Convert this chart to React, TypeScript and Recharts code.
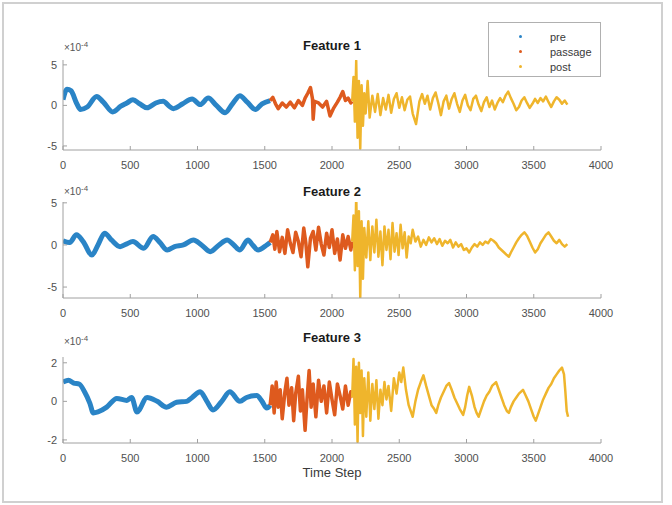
import React from "react";
import { LineChart, Line, XAxis, YAxis } from "recharts";

const xTicks = [0, 500, 1000, 1500, 2000, 2500, 3000, 3500, 4000];
const yTicks12 = [-5, 0, 5];
const yTicks3 = [-2, 0, 2];
const titles = ["Feature 1", "Feature 2", "Feature 3"];
const legendNames = ["pre", "passage", "post"];

// values in units of 1e-4, pairs [time step, value]
const pre1: number[][] = [[0,0.7],[30,2.0],[60,1.8],[100,0.3],[130,-0.5],[180,-0.2],[250,1.1],[300,0.4],[370,-0.8],[430,-0.1],[475,0.3],[520,0.7],[570,0.2],[625,-0.3],[690,0.3],[745,0.5],[790,-0.1],[820,-0.4],[890,0.2],[960,0.8],[1020,0.1],[1080,0.9],[1140,0.0],[1205,-0.9],[1260,0.2],[1315,1.2],[1370,0.4],[1430,-0.5],[1480,0.2],[1540,0.6]];
const passage1: number[][] = [[1540,0.6],[1560,1.0],[1580,0.2],[1600,-0.4],[1630,0.3],[1660,-0.2],[1690,0.4],[1720,-0.3],[1750,0.6],[1780,0.0],[1800,0.9],[1820,1.5],[1840,2.2],[1855,0.8],[1860,-1.7],[1870,0.5],[1900,0.3],[1930,-0.2],[1960,0.5],[1985,-1.3],[2010,-0.4],[2040,0.4],[2060,1.0],[2080,1.7],[2100,0.6],[2120,0.9],[2140,0.3],[2150,0.5]];
const post1: number[][] = [[2150,0.5],[2160,3.5],[2170,-2.0],[2180,5.5],[2190,-4.0],[2200,3.0],[2210,-5.3],[2220,2.5],[2230,-2.5],[2240,1.5],[2250,-1.0],[2265,3.0],[2280,-1.5],[2300,1.2],[2320,-0.8],[2340,1.4],[2360,-1.2],[2380,0.9],[2400,-0.5],[2420,1.3],[2440,-0.9],[2460,0.8],[2480,1.5],[2500,-0.3],[2520,1.0],[2540,-0.6],[2560,0.7],[2580,1.1],[2600,-1.0],[2625,-2.3],[2650,0.5],[2670,1.4],[2690,0.2],[2710,1.2],[2730,-0.5],[2750,0.9],[2770,1.6],[2790,0.3],[2810,-1.2],[2830,0.5],[2850,1.2],[2870,-0.4],[2890,0.8],[2910,1.5],[2930,0.2],[2950,-0.8],[2970,0.6],[2990,1.3],[3010,0.0],[3030,-0.6],[3050,0.8],[3070,1.2],[3090,0.1],[3110,-0.7],[3130,0.4],[3150,1.0],[3170,-0.2],[3190,0.6],[3210,-0.5],[3230,0.3],[3250,0.9],[3270,0.4],[3290,1.2],[3310,1.7],[3330,0.9],[3350,0.2],[3370,-0.6],[3390,-0.2],[3410,0.6],[3430,1.0],[3450,0.3],[3470,-0.3],[3490,0.2],[3510,0.8],[3530,0.3],[3550,0.9],[3570,0.5],[3590,1.1],[3610,0.4],[3630,-0.2],[3650,0.5],[3670,1.0],[3690,0.7],[3710,0.2],[3730,0.6],[3750,0.1]];

const pre2: number[][] = [[0,0.5],[50,0.3],[100,1.2],[150,0.4],[215,-1.2],[260,0.0],[310,1.4],[360,0.6],[425,-0.2],[470,0.1],[520,0.4],[600,-0.4],[670,1.0],[720,0.3],[775,-0.6],[830,-0.2],[895,0.0],[970,0.6],[1030,0.0],[1095,-0.8],[1160,0.0],[1220,0.6],[1270,0.0],[1315,-0.6],[1375,0.6],[1410,0.0],[1450,-0.6],[1515,0.0],[1540,0.3]];
const passage2: number[][] = [[1540,0.3],[1560,1.2],[1575,-0.5],[1590,1.6],[1610,-0.8],[1630,0.9],[1650,-1.0],[1670,1.8],[1690,0.2],[1710,-0.9],[1730,1.5],[1750,0.4],[1770,-1.4],[1790,2.0],[1805,0.3],[1820,-2.6],[1840,0.8],[1860,1.6],[1880,-0.6],[1900,2.1],[1920,0.1],[1940,-1.2],[1960,1.4],[1980,-0.3],[2000,1.8],[2020,-1.0],[2040,0.7],[2060,-1.8],[2080,1.2],[2100,-0.4],[2120,1.0],[2140,-0.6],[2150,0.4]];
const post2: number[][] = [[2150,0.4],[2160,3.5],[2170,-3.0],[2180,6.0],[2190,-2.5],[2200,4.0],[2210,-6.2],[2220,2.8],[2230,-4.0],[2240,2.0],[2255,-1.5],[2270,2.8],[2285,-1.8],[2300,2.2],[2315,-0.9],[2330,3.0],[2345,-1.4],[2360,1.6],[2375,-2.4],[2390,2.2],[2405,-0.6],[2420,1.8],[2435,-1.7],[2450,2.6],[2465,-0.8],[2480,1.4],[2495,-1.2],[2510,2.4],[2525,-0.4],[2540,1.5],[2555,-1.5],[2570,1.0],[2585,0.2],[2600,1.8],[2620,0.4],[2640,1.0],[2660,-0.2],[2680,0.6],[2700,0.0],[2720,0.9],[2740,0.3],[2760,0.8],[2780,0.1],[2800,0.7],[2820,-0.1],[2840,0.5],[2860,0.2],[2880,0.6],[2900,-0.3],[2920,0.3],[2940,-0.2],[2960,0.1],[2980,-0.6],[3000,-0.4],[3020,-0.9],[3040,-0.3],[3060,0.1],[3080,-0.2],[3100,0.3],[3120,0.0],[3140,0.4],[3160,0.2],[3180,0.7],[3200,0.5],[3220,0.2],[3240,-0.3],[3260,-0.6],[3280,-0.9],[3300,-1.2],[3315,-1.4],[3330,-0.9],[3350,-0.3],[3370,0.3],[3390,0.8],[3410,1.2],[3430,1.5],[3450,1.1],[3470,0.4],[3490,-0.3],[3510,-0.9],[3530,-0.5],[3550,0.2],[3570,0.7],[3590,1.2],[3610,1.5],[3630,1.0],[3650,0.5],[3670,0.2],[3690,0.6],[3710,0.1],[3730,-0.2],[3750,0.1]];

const pre3: number[][] = [[0,1.0],[40,1.1],[80,0.95],[120,0.9],[160,0.5],[200,-0.1],[225,-0.6],[260,-0.55],[325,-0.3],[400,0.15],[475,0.05],[510,0.2],[550,-0.55],[625,0.2],[700,0.0],[770,-0.3],[845,-0.05],[920,0.0],[960,0.2],[1020,0.5],[1070,0.0],[1115,-0.45],[1180,0.0],[1240,0.5],[1315,0.0],[1365,0.2],[1440,0.3],[1480,0.0],[1515,-0.35],[1540,-0.2]];
const passage3: number[][] = [[1540,-0.2],[1555,0.8],[1570,-0.6],[1585,1.0],[1600,-0.3],[1615,0.6],[1630,-0.9],[1650,0.5],[1665,1.2],[1680,-0.2],[1700,0.7],[1715,-1.0],[1730,0.4],[1750,1.3],[1765,-0.5],[1780,0.6],[1800,-1.5],[1815,0.2],[1830,1.6],[1845,-0.3],[1860,0.9],[1880,-0.8],[1900,1.1],[1920,0.0],[1940,0.8],[1960,-0.6],[1980,1.0],[2000,0.1],[2020,-0.7],[2040,0.9],[2060,0.3],[2080,-0.4],[2100,0.8],[2120,-0.2],[2140,0.5],[2150,0.2]];
const post3: number[][] = [[2150,0.2],[2160,2.2],[2170,-1.2],[2180,1.8],[2190,-2.1],[2200,2.0],[2210,-0.6],[2220,1.6],[2230,-1.8],[2240,1.2],[2255,-0.8],[2270,1.5],[2285,-1.0],[2300,0.9],[2315,-0.4],[2330,1.1],[2345,-0.9],[2360,0.6],[2375,-0.2],[2390,1.0],[2405,0.1],[2420,0.8],[2440,-0.5],[2460,1.2],[2480,0.4],[2500,1.5],[2515,1.0],[2530,1.75],[2550,0.6],[2570,-0.2],[2585,-0.5],[2600,-0.8],[2620,0.0],[2640,0.6],[2660,1.0],[2680,1.35],[2700,0.8],[2720,0.3],[2740,-0.2],[2760,-0.4],[2775,-0.6],[2790,-0.2],[2810,0.2],[2830,0.5],[2850,0.8],[2870,0.95],[2890,0.6],[2910,0.2],[2930,-0.1],[2950,-0.4],[2975,-0.7],[2990,-0.3],[3005,0.3],[3020,0.75],[3040,0.3],[3060,-0.3],[3075,-0.6],[3090,-0.8],[3110,-0.4],[3130,0.0],[3150,0.3],[3170,0.5],[3190,0.8],[3220,1.0],[3240,0.6],[3260,0.2],[3280,-0.2],[3300,-0.5],[3315,-0.6],[3330,-0.3],[3350,0.0],[3370,0.2],[3390,0.4],[3420,0.6],[3440,0.3],[3460,0.0],[3480,-0.4],[3500,-0.8],[3515,-1.0],[3530,-0.7],[3550,-0.3],[3570,0.1],[3590,0.4],[3610,0.7],[3630,0.9],[3650,1.2],[3670,1.4],[3690,1.6],[3710,1.75],[3725,1.4],[3735,0.5],[3745,-0.5],[3755,-0.8]];

const C_PRE = "#2a84c6";
const C_PAS = "#de5a1e";
const C_POST = "#efb52c";
const FONT = "'Liberation Sans', Arial, Helvetica, sans-serif";

const toPts = (a: number[][]) => a.map(([x, y]) => ({ x, y }));

type PanelProps = {
  top: number;
  height: number;
  mTop: number;
  mBottom: number;
  domain: number[];
  yTicks: number[];
  pre: number[][];
  passage: number[][];
  post: number[][];
};

function Panel(p: PanelProps) {
  const tickStyle = { fontSize: 11, fill: "#505050", fontFamily: FONT };
  return (
    <div style={{ position: "absolute", left: 0, top: p.top, width: 672, height: p.height }}>
      <LineChart
        width={672}
        height={p.height}
        margin={{ top: p.mTop, right: 71, bottom: p.mBottom, left: 33 }}
      >
        <XAxis
          type="number"
          dataKey="x"
          domain={[0, 4000]}
          ticks={xTicks}
          allowDataOverflow
          height={20}
          stroke="#a0a0a0"
          tickSize={-4}
          tickMargin={15}
          tick={tickStyle}
          interval={0}
        />
        <YAxis
          type="number"
          dataKey="y"
          domain={p.domain}
          ticks={p.yTicks}
          allowDataOverflow
          width={30}
          stroke="#a0a0a0"
          tickSize={-4}
          tickMargin={10}
          tick={tickStyle}
          interval={0}
        />
        <Line data={toPts(p.pre)} type="monotone" dataKey="y" stroke={C_PRE} strokeWidth={5} dot={false} isAnimationActive={false} strokeLinejoin="round" />
        <Line data={toPts(p.passage)} dataKey="y" stroke={C_PAS} strokeWidth={3.5} dot={false} isAnimationActive={false} strokeLinejoin="round" />
        <Line data={toPts(p.post)} dataKey="y" stroke={C_POST} strokeWidth={2.5} dot={false} isAnimationActive={false} strokeLinejoin="round" />
      </LineChart>
    </div>
  );
}

function Exponent({ top }: { top: number }) {
  return (
    <div style={{ position: "absolute", left: 64, top, fontSize: 10, color: "#555", fontFamily: FONT, whiteSpace: "nowrap" }}>
      ×10<sup style={{ fontSize: 8, verticalAlign: "4px" }}>-4</sup>
    </div>
  );
}

function Title({ text, top }: { text: string; top: number }) {
  return (
    <div style={{ position: "absolute", left: 232, width: 200, top, textAlign: "center", fontSize: 13, fontWeight: "bold", color: "#1a1a1a", fontFamily: FONT }}>
      {text}
    </div>
  );
}

export default function App() {
  const legendColors = [C_PRE, C_PAS, C_POST];
  return (
    <div style={{ position: "absolute", left: 0, top: 0, width: 672, height: 505, background: "#ffffff", overflow: "hidden" }}>
      <div style={{ position: "absolute", left: 2, top: 2, width: 657, height: 497, border: "2px solid #d0d0d0" }} />
      <Panel top={30} height={145} mTop={30} mBottom={5} domain={[-5.5, 5.6]} yTicks={yTicks12} pre={pre1} passage={passage1} post={post1} />
      <Panel top={175} height={145} mTop={27} mBottom={2} domain={[-6.3, 5.1]} yTicks={yTicks12} pre={pre2} passage={passage2} post={post2} />
      <Panel top={330} height={140} mTop={27} mBottom={7} domain={[-2.16, 2.3]} yTicks={yTicks3} pre={pre3} passage={passage3} post={post3} />
      <Exponent top={40} />
      <Exponent top={184} />
      <Exponent top={334} />
      <Title text={titles[0]} top={38} />
      <Title text={titles[1]} top={184} />
      <Title text={titles[2]} top={330} />
      <div style={{ position: "absolute", left: 332 - 60, width: 120, top: 465, textAlign: "center", fontSize: 13, color: "#3a3a3a", fontFamily: FONT }}>
        Time Step
      </div>
      <div style={{ position: "absolute", left: 488, top: 22, width: 111, height: 53, border: "1px solid #b0b0b0", background: "#fff", fontFamily: FONT, fontSize: 11, color: "#3a3a3a" }}>
        {legendNames.map((n, i) => (
          <div key={n} style={{ position: "absolute", left: 0, top: 7 + i * 15, height: 14, width: 111 }}>
            <span style={{ position: "absolute", left: 30, top: 5, width: 3, height: 3, borderRadius: 2, background: legendColors[i] }} />
            <span style={{ position: "absolute", left: 61, top: 0, lineHeight: "14px" }}>{n}</span>
          </div>
        ))}
      </div>
    </div>
  );
}
